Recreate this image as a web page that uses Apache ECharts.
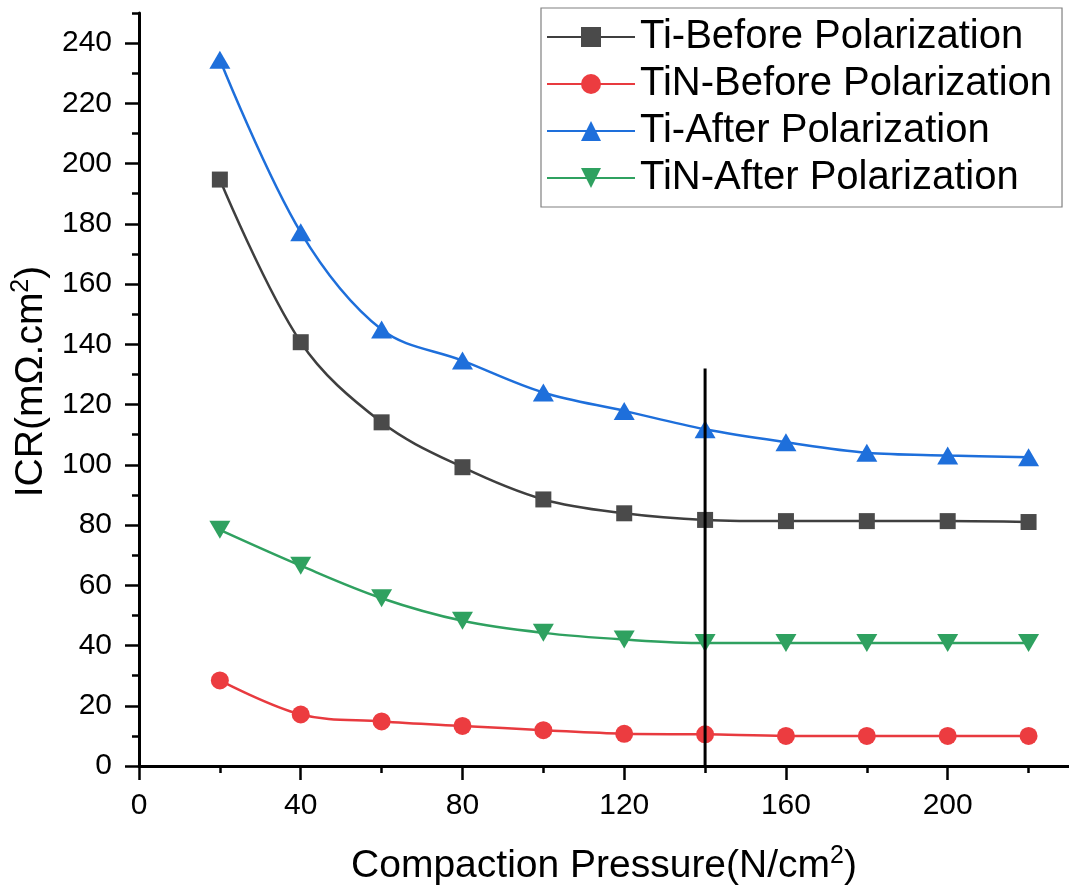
<!DOCTYPE html>
<html>
<head>
<meta charset="utf-8">
<script src="https://cdn.jsdelivr.net/npm/echarts@6/dist/echarts.min.js"></script>
<style>
  html, body { margin: 0; padding: 0; background: #ffffff; }
  #chart { width: 1069px; height: 891px; }
</style>
</head>
<body>
<div id="chart"></div>
<script>
// Compaction pressure (N/cm²)
const pressure = [20, 40, 60, 80, 100, 120, 140, 160, 180, 200, 220];

// Interfacial contact resistance (mΩ·cm²)
const tiBefore  = [194.7, 140.7, 114.1, 99.2, 88.5, 83.9, 81.7, 81.3, 81.3, 81.3, 81.0];
const tinBefore = [28.4, 17.1, 14.8, 13.3, 11.9, 10.7, 10.5, 10.0, 10.0, 10.0, 10.0];
const tiAfter   = [234.5, 177.2, 144.9, 134.6, 124.0, 117.9, 111.8, 107.5, 104.0, 103.1, 102.5];
const tinAfter  = [78.4, 66.5, 55.7, 48.2, 44.2, 42.0, 40.8, 40.8, 40.8, 40.8, 40.8];

const seriesNames = [
  'Ti-Before Polarization',
  'TiN-Before Polarization',
  'Ti-After Polarization',
  'TiN-After Polarization'
];

// Reference line at 140 N/cm²
const guideX = 140;
const guideTop = 132;

// Axis ticks
const xMajorTicks = [0, 40, 80, 120, 160, 200];
const xMinorTicks = [20, 60, 100, 140, 180, 220];
const yMajorTicks = [0, 20, 40, 60, 80, 100, 120, 140, 160, 180, 200, 220, 240];
const yMinorTicks = [10, 30, 50, 70, 90, 110, 130, 150, 170, 190, 210, 230, 250];

const FONT = "'Liberation Sans', Arial, Helvetica, sans-serif";
const xMax = 230, yMax = 250;

function pairs(ys) { return pressure.map((x, i) => [x, ys[i]]); }

const gridRect = { left: 139, right: 0, top: 13, bottom: 125 };

const chart = echarts.init(document.getElementById('chart'), null, { renderer: 'canvas' });

function titleRich() {
  return {
    a: { fontSize: 39, fontFamily: FONT, color: '#000', lineHeight: 44 },
    s: { fontSize: 25, fontFamily: FONT, color: '#000', padding: [0, 0, 20, 0] }
  };
}

const option = {
  backgroundColor: '#ffffff',
  animation: false,
  textStyle: { fontFamily: FONT },
  grid: [
    Object.assign({ containLabel: false }, gridRect),
    Object.assign({ containLabel: false }, gridRect)
  ],
  legend: {
    data: seriesNames,
    orient: 'vertical',
    left: 541,
    top: 8,
    padding: [9, 10, 9, 5],
    itemWidth: 88,
    itemHeight: 25,
    itemGap: 7,
    borderColor: '#808080',
    borderWidth: 1.2,
    backgroundColor: '#ffffff',
    textStyle: { fontSize: 40, fontFamily: FONT, color: '#000' }
  },
  xAxis: [
    {
      type: 'value', gridIndex: 0, min: 0, max: xMax,
      name: '{a|Compaction Pressure(N/cm}{s|2}{a|)}',
      nameLocation: 'middle', nameGap: 78,
      nameTextStyle: { rich: titleRich() },
      axisLine: { show: true, onZero: false, lineStyle: { color: '#000', width: 3 } },
      axisTick: { show: true, customValues: xMajorTicks, length: 14, lineStyle: { color: '#000', width: 2.5 } },
      axisLabel: { customValues: xMajorTicks, fontSize: 30, color: '#000', fontFamily: FONT, margin: 25 },
      splitLine: { show: false }
    },
    {
      type: 'value', gridIndex: 1, min: 0, max: xMax,
      axisLine: { show: false },
      axisTick: { show: true, customValues: xMinorTicks, length: 7, lineStyle: { color: '#000', width: 2.5 } },
      axisLabel: { show: false },
      splitLine: { show: false }
    }
  ],
  yAxis: [
    {
      type: 'value', gridIndex: 0, min: 0, max: yMax,
      name: '{a|ICR(mΩ.cm}{s|2}{a|)}',
      nameLocation: 'middle', nameGap: 79, nameRotate: 90,
      nameTextStyle: { rich: titleRich(), padding: [0, 0, 0, 16] },
      axisLine: { show: true, onZero: false, lineStyle: { color: '#000', width: 3 } },
      axisTick: { show: true, customValues: yMajorTicks, length: 14, lineStyle: { color: '#000', width: 2.5 } },
      axisLabel: { customValues: yMajorTicks, fontSize: 30, color: '#000', fontFamily: FONT, margin: 27 },
      splitLine: { show: false }
    },
    {
      type: 'value', gridIndex: 1, min: 0, max: yMax,
      axisLine: { show: false },
      axisTick: { show: true, customValues: yMinorTicks, length: 7, lineStyle: { color: '#000', width: 2.5 } },
      axisLabel: { show: false },
      splitLine: { show: false }
    }
  ],
  series: [
    {
      name: seriesNames[0], type: 'line', data: pairs(tiBefore), smooth: 0.35,
      symbol: 'rect', symbolSize: 16,
      lineStyle: { color: '#3f3f3f', width: 2.5 },
      itemStyle: { color: '#4a4a4a' }, z: 3
    },
    {
      name: seriesNames[1], type: 'line', data: pairs(tinBefore), smooth: 0.35,
      symbol: 'circle', symbolSize: 18,
      lineStyle: { color: '#e83a3f', width: 2.5 },
      itemStyle: { color: '#ec3c40' }, z: 3
    },
    {
      name: seriesNames[2], type: 'line', data: pairs(tiAfter), smooth: 0.35,
      symbol: 'triangle', symbolSize: [21, 18],
      lineStyle: { color: '#1e6fdb', width: 2.5 },
      itemStyle: { color: '#1e6fdb' }, z: 3
    },
    {
      name: seriesNames[3], type: 'line', data: pairs(tinAfter), smooth: 0.35,
      symbol: 'triangle', symbolRotate: 180, symbolSize: [21, 18],
      lineStyle: { color: '#2fa160', width: 2.5 },
      itemStyle: { color: '#2fa160' }, z: 3
    },
    {
      name: 'guide', type: 'line', data: [[guideX, 0], [guideX, guideTop]],
      symbol: 'none', silent: true,
      lineStyle: { color: '#000', width: 3 }, z: 5
    }
  ]
};

chart.setOption(option);
</script>
</body>
</html>
